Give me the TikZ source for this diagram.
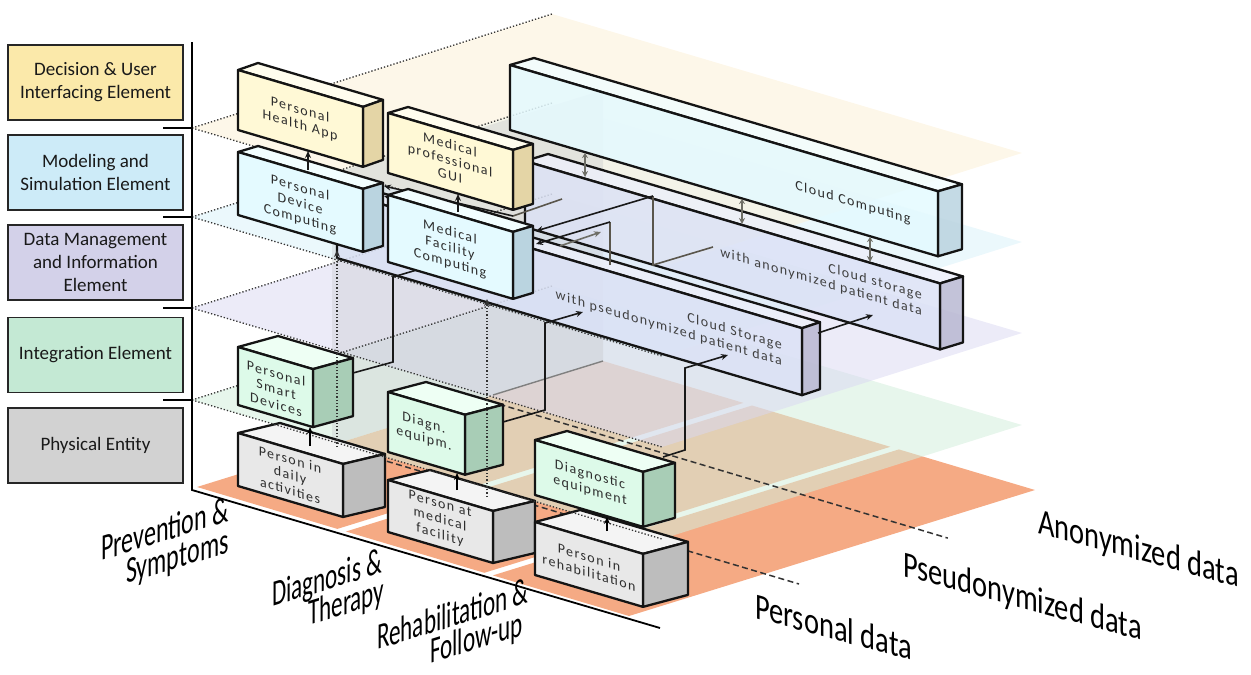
\documentclass[tikz,border=0pt]{standalone}
\usepackage{fontspec}
\setmainfont{Carlito}
\newfontfamily\spfont[LetterSpace=10]{Carlito}
\usetikzlibrary{arrows.meta}

\definecolor{legYel}{HTML}{FBE9AA}
\definecolor{legCya}{HTML}{CDEBF8}
\definecolor{legPur}{HTML}{D3D1E9}
\definecolor{legGrn}{HTML}{C4E9D4}
\definecolor{legGry}{HTML}{D2D2D2}
\definecolor{gnd}{HTML}{F5AA84}
\definecolor{plInt}{HTML}{D4EEDC}
\definecolor{plDat}{HTML}{D9D7F2}
\definecolor{plMod}{HTML}{D3EFF8}
\definecolor{plDec}{HTML}{FCEFD4}
\definecolor{wallG}{HTML}{C4C6CA}
\definecolor{yF}{HTML}{FFF9D6}\definecolor{yT}{HTML}{FFFDEE}\definecolor{yS}{HTML}{E4D5A6}
\definecolor{cF}{HTML}{E4FAFF}\definecolor{cT}{HTML}{F2FEFF}\definecolor{cS}{HTML}{BAD4E0}
\definecolor{gF}{HTML}{DDFAE9}\definecolor{gT}{HTML}{EEFFF4}\definecolor{gS}{HTML}{A8CDB6}
\definecolor{pF}{HTML}{E8E8E8}\definecolor{pT}{HTML}{F4F4F4}\definecolor{pS}{HTML}{BDBDBD}
\definecolor{sF}{HTML}{DCE2F6}\definecolor{sT}{HTML}{ECEFFA}\definecolor{sS}{HTML}{B9B8D2}
\definecolor{conG}{HTML}{5A564C}
\definecolor{arG}{HTML}{6E6E66}

\tikzset{
 boxline/.style={draw=black!92, line width=2.3pt, line join=round},
 iboxextra/.style={},
 legend/.style={draw=black!85, line width=1.8pt, minimum width=175pt, minimum height=75pt,
   align=center, inner sep=0pt, font=\fontsize{19}{23}\selectfont, text=black!90},
 btxt/.style={align=center, inner sep=0pt, font=\spfont\fontsize{14}{15.5}\selectfont, text=black!82},
 stxt/.style={align=right, inner sep=0pt, font=\spfont\fontsize{14}{16}\selectfont, text=black!75},
 biglab/.style={inner sep=0pt, anchor=base west, font=\fontsize{37}{37}\selectfont},
 pdot/.style={dotted, line width=1.3pt, black!80},
 gdash/.style={dash pattern=on 6pt off 3.5pt, line width=1.5pt, black!80},
 conn/.style={line width=1.6pt, black!90},
 gconn/.style={line width=1.6pt, conG},
 arrowtip/.style={-{Stealth[length=7pt,width=6pt]}},
 garrow/.style={{Stealth[length=5pt,width=6pt]}-{Stealth[length=6pt,width=6pt]}, line width=1.5pt, arG},
}

% box: x y w h dx dy front top side
\newcommand\ibox[9]{%
 \pgfmathsetmacro\ibsy{0.295*#3}%
 \pgfmathsetmacro\ibmdx{-1*(#5)}%
 \pgfmathsetmacro\ibmdy{-1*(#6)}%
 \pgfmathsetmacro\ibmw{-1*(#3)}%
 \pgfmathsetmacro\ibmsy{-1*\ibsy}%
 \pgfmathsetmacro\ibxr{#1+#3}%
 \pgfmathsetmacro\ibyr{#2+\ibsy}%
 \filldraw[boxline,iboxextra,fill=#8] (#1,#2) -- ++(#5,#6) -- ++(#3,\ibsy) -- ++(\ibmdx,\ibmdy) -- cycle;
 \filldraw[boxline,iboxextra,fill=#9] (\ibxr,\ibyr) -- ++(#5,#6) -- ++(0,#4) -- ++(\ibmdx,\ibmdy) -- cycle;
 \filldraw[boxline,iboxextra,fill=#7] (#1,#2) -- ++(#3,\ibsy) -- ++(0,#4) -- ++(\ibmw,\ibmsy) -- cycle;
}
\newcommand\sltext[5]{\begin{scope}[shift={#1},yslant=#2,xscale=#3]\node[transform shape,#4] {#5};\end{scope}}
\newcommand\layerplane[3]{\fill[#2, fill opacity=#3] (192,#1) -- ++(470,139) -- ++(360,-114) -- ++(-470,-139) -- cycle;}

\begin{document}
\begin{tikzpicture}[x=1pt,y=-1pt]
\useasboundingbox (0,0) rectangle (1251,675);

% ---------- ground (phases) ----------
\fill[gnd] (197,487) -- (337.4,528.9) -- ++(406,-126) -- (603,361) -- cycle;
\fill[gnd] (346,531.5) -- (484.3,572.8) -- ++(406,-126) -- (752,405.5) -- cycle;
\fill[gnd] (492.9,575.4) -- (629,616) -- ++(406,-126) -- (898.9,449.4) -- cycle;

% ---------- layer planes ----------
\layerplane{400}{plInt}{0.55}
\layerplane{308}{plDat}{0.5}
\layerplane{217}{plMod}{0.45}
\layerplane{128}{plDec}{0.5}

% translucent side wall (behind the boxes)
\fill[wallG, fill opacity=0.35] (332,445) -- (603,361) -- (603,90) -- (332,174) -- cycle;

% ground dashed band lines
\draw[gdash] (332.3,445) -- (799,584);
\draw[gdash] (481.2,398.8) -- (947.8,538.1);

% plane edges (dotted)
\foreach \yy in {128,217,308,400}{\draw[pdot] (192,\yy) -- ++(360,-114);}
\foreach \yy in {128,217,308}{\draw[pdot] (192,\yy) -- ++(470,139);}
\draw[line width=1.4pt, black!50] (493,395) -- (603,361);

% ---------- cloud boxes ----------
\begin{scope}[iboxextra/.style={fill opacity=0.85}]
\ibox{510}{65}{428}{65}{24}{-7}{cF}{cT}{cS}
\ibox{525}{161}{415}{66}{23}{-7}{sF}{sT}{sS}
\ibox{337}{191}{465}{67}{18}{-6}{sF}{sT}{sS}
\end{scope}

\sltext{(853,203)}{-0.295}{1}{btxt,name=tCC}{Cloud Computing}
\sltext{(922,304)}{-0.295}{1}{stxt,anchor=east,name=tAS}{Cloud storage\\with anonymized patient data}
\sltext{(782,354)}{-0.295}{1}{stxt,anchor=east,name=tPS}{Cloud Storage\\with pseudonymized patient data}

% ---------- connectors behind front boxes ----------
\draw[garrow] (585,153) -- (585,177);
\draw[garrow] (742,199) -- (742,224);
\draw[garrow] (870,237) -- (870,262);

\coordinate (g1a) at (713,247); \coordinate (g1b) at (653,265);
\coordinate (g1c) at (653,196); \coordinate (g1d) at (536,231);
\draw[gconn] (g1a) -- (g1b) -- (g1c);
\draw[conn,arrowtip] (g1c) -- (g1d);
\coordinate (g2a) at (610,265); \coordinate (g2b) at (610,222); \coordinate (g2c) at (536,244);
\draw[gconn] (g2a) -- (g2b);
\draw[conn,arrowtip] (g2b) -- (g2c);
\draw[line width=1.6pt, arG, arrowtip] (560,246) -- (601,232);
\coordinate (g3a) at (562,199); \coordinate (g3b) at (513,216);
\draw[gconn] (g3a) -- (g3b);
\draw[conn,arrowtip] (g3b) -- (384,186);
\draw[conn,arrowtip] (440,212) -- (384,196);

\coordinate (c1a) at (353,373); \coordinate (c1b) at (393,362);
\coordinate (c1c) at (393,277); \coordinate (c1d) at (420,269);
\draw[conn] (c1a) -- (c1b) -- (c1c) -- (c1d);
\coordinate (c2a) at (503,422); \coordinate (c2b) at (545,410);
\coordinate (c2c) at (545,323); \coordinate (c2d) at (583,312);
\draw[conn,arrowtip] (c2a) -- (c2b) -- (c2c) -- (c2d);
\coordinate (c3a) at (663,457); \coordinate (c3b) at (685,450);
\coordinate (c3c) at (685,368); \coordinate (c3d) at (728,355);
\draw[conn,arrowtip] (c3a) -- (c3b) -- (c3c) -- (c3d);
\coordinate (c4a) at (818,333); \coordinate (c4b) at (873,315);
\draw[conn,arrowtip] (c4a) -- (c4b);

% ---------- upper front boxes ----------
\ibox{388}{113}{125}{60}{20}{-6}{yF}{yT}{yS}
\ibox{388}{195}{125}{67}{20}{-6}{cF}{cT}{cS}
\ibox{238}{70}{125}{60}{20}{-7}{yF}{yT}{yS}
\ibox{238}{152}{125}{63}{20}{-6}{cF}{cT}{cS}
\sltext{(300,118)}{-0.295}{1}{btxt,name=tPHA}{Personal\\Health App}
\sltext{(300,204)}{-0.295}{1}{btxt,name=tPDC}{Personal\\Device\\Computing}
\sltext{(450,160)}{-0.295}{1}{btxt,name=tGUI}{Medical\\professional\\GUI}
\sltext{(450,248)}{-0.295}{1}{btxt,name=tMFC}{Medical\\Facility\\Computing}
\draw[conn,arrowtip] (308,170) -- (308,151);
\draw[conn,arrowtip] (458,212) -- (458,194);

% ---------- physical entities ----------
\ibox{238}{433}{105}{53}{42}{-10}{pF}{pT}{pS}
\ibox{388}{480}{105}{52}{42}{-10}{pF}{pT}{pS}
\ibox{535}{522}{108}{53}{45}{-12}{pF}{pT}{pS}
\sltext{(290,475)}{-0.295}{1}{btxt,name=tPDA}{Person in\\daily\\activities}
\sltext{(440,520)}{-0.295}{1}{btxt,name=tPMF}{Person at\\medical\\facility}
\sltext{(589,565)}{-0.295}{1}{btxt,name=tPR}{Person in\\rehabilitation}

\draw[pdot] (192,400) -- ++(470,139);

% ---------- integration boxes ----------
\ibox{238}{347}{75}{58}{40}{-11}{gF}{gT}{gS}
\ibox{388}{392}{77}{60}{38}{-10}{gF}{gT}{gS}
\ibox{535}{440}{108}{55}{32}{-9}{gF}{gT}{gS}
\sltext{(276,389)}{-0.295}{1}{btxt,name=tPSD}{Personal\\Smart\\Devices}
\sltext{(424,431)}{-0.295}{1}{btxt,name=tDE1}{Diagn.\\equipm.}
\sltext{(590,483)}{-0.295}{1}{btxt,name=tDE2}{Diagnostic\\equipment}

\draw[line width=1.4pt, arrowtip] (310,446) -- (310,427);
\draw[line width=1.4pt, arrowtip] (457,490) -- (457,473);
\draw[line width=1.4pt, arrowtip] (607,531) -- (607,517);
\draw[pdot, arrowtip] (337,447) -- (337,250);
\draw[pdot, arrowtip] (487,497) -- (487,299);

% ---------- legend and axes ----------
\node[legend, fill=legYel] (lDec) at (95.5,82.5) {Decision \& User\\Interfacing Element};
\node[legend, fill=legCya] (lMod) at (95.5,172.5) {Modeling and\\Simulation Element};
\node[legend, fill=legPur] (lDat) at (95.5,262.5) {Data Management\\and Information\\Element};
\node[legend, fill=legGrn] (lInt) at (95.5,355) {Integration Element};
\node[legend, fill=legGry] (lPhy) at (95.5,445.5) {Physical Entity};

\coordinate (axT) at (192,42); \coordinate (axO) at (192,490); \coordinate (axE) at (660,628);
\draw[line width=1.8pt] (axT) -- (axO) -- (axE);
\foreach \yy in {128,217,308,400}{\draw[line width=1.8pt] (163,\yy) -- (192,\yy);}

\sltext{(101,561)}{0.31}{0.65}{biglab,name=lPrev1}{Prevention \&}
\sltext{(126,584)}{0.31}{0.65}{biglab,name=lPrev2}{Symptoms}
\sltext{(272,607)}{0.31}{0.625}{biglab,name=lDiag1}{Diagnosis \&}
\sltext{(308,626)}{0.31}{0.625}{biglab,name=lDiag2}{Therapy}
\sltext{(377,650)}{0.31}{0.625}{biglab,name=lReh1}{Rehabilitation \&}
\sltext{(430,664)}{0.31}{0.625}{biglab,name=lReh2}{Follow-up}
\sltext{(755,618)}{-0.27}{0.77}{biglab,name=lPers}{Personal data}
\sltext{(903,576)}{-0.27}{0.77}{biglab,name=lPseu}{Pseudonymized data}
\sltext{(1038,533)}{-0.27}{0.77}{biglab,name=lAnon}{Anonymized data}
\end{tikzpicture}
\end{document}
